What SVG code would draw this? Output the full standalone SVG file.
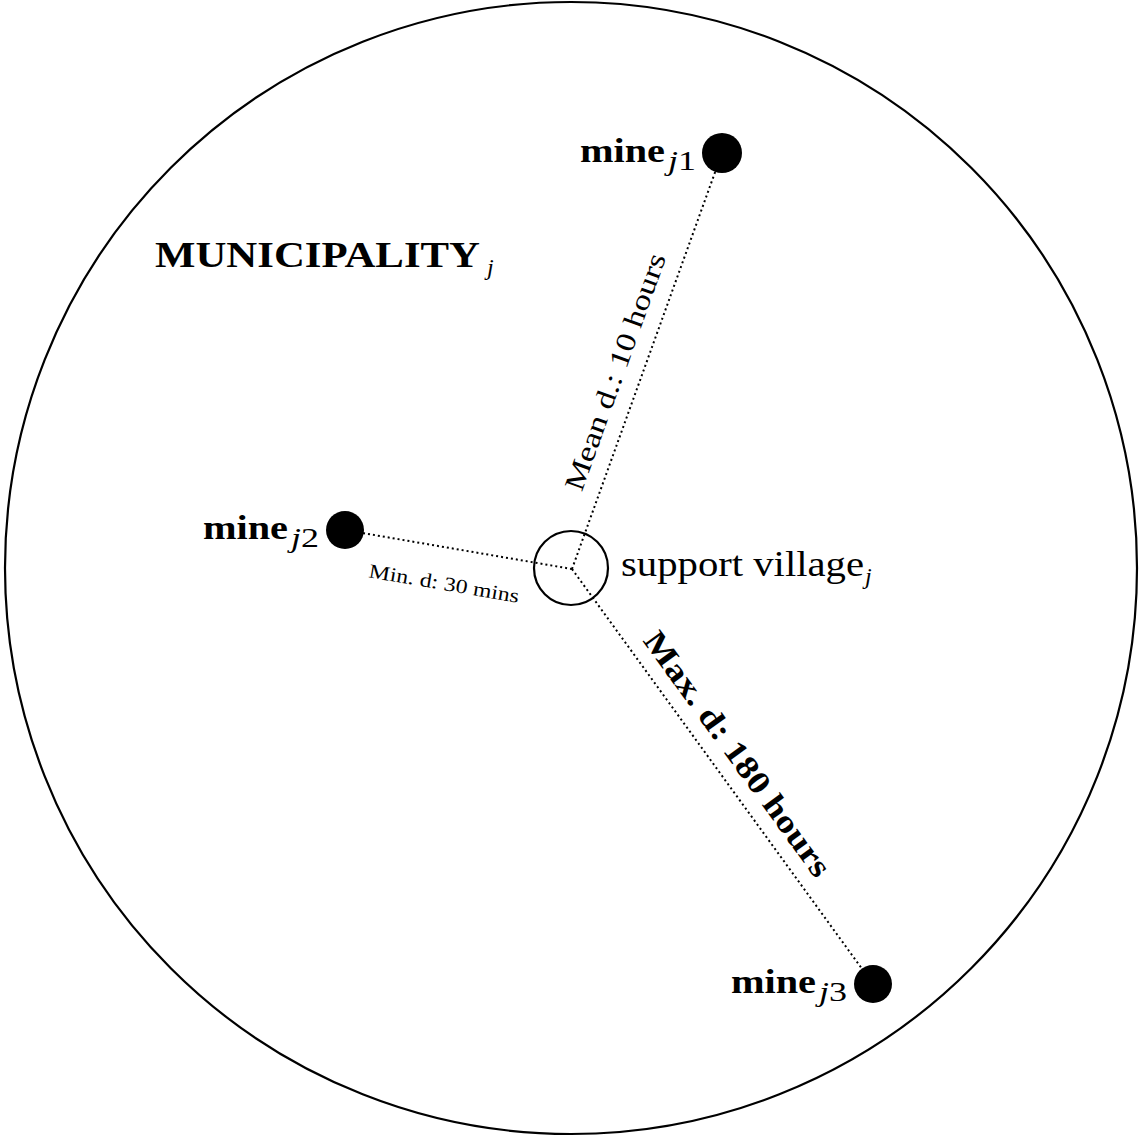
<svg xmlns="http://www.w3.org/2000/svg" width="1140" height="1136" viewBox="0 0 1140 1136">
<style>
text{font-family:"Liberation Serif","Times New Roman",serif;fill:#000}
.b{font-weight:bold}
.sub{font-size:24px}
.msub{font-size:27px}
.it{font-style:italic}
.conn{stroke:#000;stroke-width:2;stroke-dasharray:2 3;fill:none}
.dot{fill:#000}
</style>
<rect width="1140" height="1136" fill="#fff"/>
<g id="municipality">
<circle cx="571" cy="568" r="566" fill="none" stroke="#000" stroke-width="2.2"/>
<text x="155" y="267" font-size="35" class="b" textLength="325" lengthAdjust="spacingAndGlyphs">MUNICIPALITY</text>
<text x="487" y="275" class="sub it">j</text>
</g>
<g id="connectors">
<line class="conn" x1="572" y1="569" x2="722" y2="153"/>
<line class="conn" x1="572" y1="569" x2="345" y2="530"/>
<line class="conn" x1="572" y1="569" x2="873" y2="984"/>
<text transform="translate(624,375) rotate(-70.2)" text-anchor="middle" font-size="28" textLength="250" lengthAdjust="spacingAndGlyphs">Mean d.: 10 hours</text>
<text transform="translate(443,590) rotate(9.75)" text-anchor="middle" font-size="20" textLength="152" lengthAdjust="spacingAndGlyphs">Min. d: 30 mins</text>
<text transform="translate(729,760) rotate(54)" text-anchor="middle" font-size="32" class="b" textLength="295" lengthAdjust="spacingAndGlyphs">Max. d: 180 hours</text>
</g>
<g id="support_village">
<circle cx="571" cy="568" r="37" fill="none" stroke="#000" stroke-width="2.2"/>
<text x="621" y="576" font-size="35" textLength="243" lengthAdjust="spacingAndGlyphs">support village</text>
<text x="865" y="584" class="sub it">j</text>
</g>
<g id="mine_j1">
<circle class="dot" cx="722" cy="153" r="20"/>
<text x="580" y="162" font-size="34" class="b" textLength="85" lengthAdjust="spacingAndGlyphs">mine</text>
<text x="668" y="170" class="msub" textLength="28" lengthAdjust="spacingAndGlyphs"><tspan class="it">j</tspan>1</text>
</g>
<g id="mine_j2">
<circle class="dot" cx="345" cy="530" r="19"/>
<text x="203" y="539" font-size="34" class="b" textLength="85" lengthAdjust="spacingAndGlyphs">mine</text>
<text x="291" y="547" class="msub" textLength="28" lengthAdjust="spacingAndGlyphs"><tspan class="it">j</tspan>2</text>
</g>
<g id="mine_j3">
<circle class="dot" cx="873" cy="984" r="19"/>
<text x="731" y="993" font-size="34" class="b" textLength="85" lengthAdjust="spacingAndGlyphs">mine</text>
<text x="819" y="1001" class="msub" textLength="28" lengthAdjust="spacingAndGlyphs"><tspan class="it">j</tspan>3</text>
</g>
</svg>
